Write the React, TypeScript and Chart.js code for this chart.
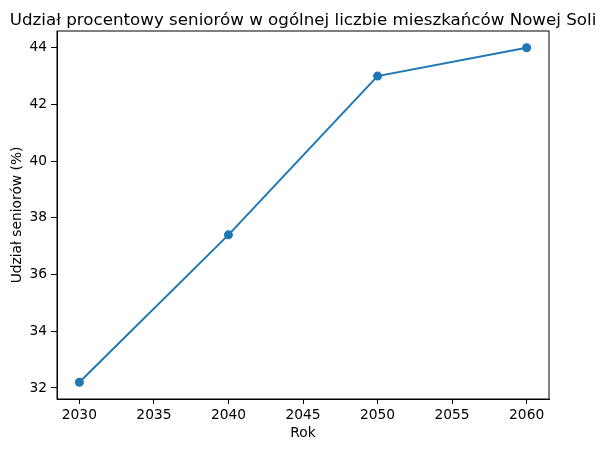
import { useEffect, useRef } from "react";
import { Chart, registerables } from "chart.js";

Chart.register(...registerables);

const years = [2030, 2040, 2050, 2060];
const seniorShare = [32.2, 37.4, 43.0, 44.0];
const chartTitle = "Udział procentowy seniorów w ogólnej liczbie mieszkańców Nowej Soli";

const FONT = "'DejaVu Sans', sans-serif";

// full black frame around the plot area, like matplotlib's spines,
// plus the title centred over the axes (not over the canvas)
const frame = {
  id: "frame",
  afterDatasetsDraw(chart: Chart) {
    const { ctx, chartArea } = chart;
    ctx.save();
    ctx.strokeStyle = "#000";
    ctx.lineWidth = 1;
    ctx.strokeRect(chartArea.left, chartArea.top, chartArea.right - chartArea.left, chartArea.bottom - chartArea.top);
    ctx.fillStyle = "#000";
    ctx.font = `16.7px ${FONT}`;
    ctx.textAlign = "center";
    ctx.textBaseline = "alphabetic";
    ctx.fillText(chartTitle, (chartArea.left + chartArea.right) / 2, 25);
    ctx.restore();
  },
};

export default function App() {
  const chartRef = useRef<HTMLCanvasElement | null>(null);
  const chartInstance = useRef<Chart | null>(null);

  useEffect(() => {
    document.body.style.margin = "0";
    if (!chartRef.current) return;
    if (chartInstance.current) chartInstance.current.destroy();
    const ctx = chartRef.current.getContext("2d");
    if (!ctx) return;

    chartInstance.current = new Chart(ctx, {
      type: "line",
      data: {
        datasets: [
          {
            data: years.map((y, i) => ({ x: y, y: seniorShare[i] })),
            borderColor: "#1f77b4",
            backgroundColor: "#1f77b4",
            borderWidth: 2,
            pointRadius: 4.5,
            pointBackgroundColor: "#1f77b4",
            pointBorderWidth: 0,
            tension: 0,
          },
        ],
      },
      options: {
        animation: false,
        responsive: false,
        layout: { padding: { left: 0, right: 56, top: 31, bottom: 0 } },
        plugins: {
          legend: { display: false },
          tooltip: { enabled: false },
          title: { display: false },
        },
        scales: {
          x: {
            type: "linear",
            min: 2028.5,
            max: 2061.5,
            grid: { drawOnChartArea: false, drawTicks: true, tickLength: 5, color: "#000" },
            border: { display: true, color: "#000" },
            ticks: {
              stepSize: 5,
              includeBounds: false,
              color: "#000",
              padding: 3,
              maxRotation: 0,
              font: { family: FONT, size: 13.8 },
              callback: (v) => String(v),
            },
            title: {
              display: true,
              text: "Rok",
              color: "#000",
              font: { family: FONT, size: 13.8 },
              padding: { top: 4, bottom: 10 },
            },
            afterFit: (scale) => {
              scale.height = 53;
            },
          },
          y: {
            type: "linear",
            min: 31.61,
            max: 44.59,
            grid: { drawOnChartArea: false, drawTicks: true, tickLength: 6, color: "#000" },
            border: { display: true, color: "#000" },
            ticks: {
              stepSize: 2,
              includeBounds: false,
              color: "#000",
              padding: 4,
              font: { family: FONT, size: 13.8 },
            },
            title: {
              display: true,
              text: "Udział seniorów (%)",
              color: "#000",
              font: { family: FONT, size: 13.8 },
              padding: { top: 9, bottom: 4 },
            },
            afterFit: (scale) => {
              scale.width = 57;
            },
          },
        },
      },
      plugins: [frame],
    });

    return () => {
      if (chartInstance.current) {
        chartInstance.current.destroy();
        chartInstance.current = null;
      }
    };
  }, []);

  return (
    <div style={{ width: 605, height: 452, background: "#fff" }}>
      <canvas ref={chartRef} width={605} height={452} />
    </div>
  );
}
